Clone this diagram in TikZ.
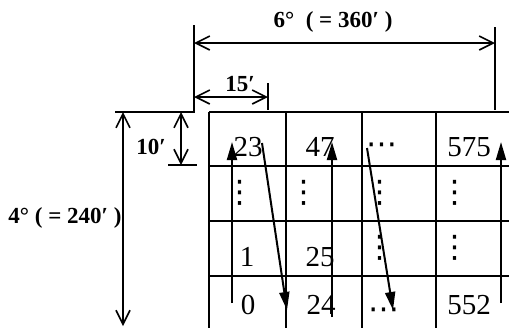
\documentclass[tikz,border=0pt]{standalone}
\usepackage{fontspec}
\setmainfont{Liberation Serif}
\newfontfamily\dotfont{DejaVu Sans}
\usetikzlibrary{arrows.meta,calc,positioning}
\tikzset{
    cell diagram/.style = {x=0.5pt, y=-0.5pt},
    rule/.style         = {line width=1pt},
    extline/.style      = {line width=0.8pt},
    dim/.style          = {line width=0.8pt,
                           {Straight Barb[length=7pt,width=7pt]}-{Straight Barb[length=7pt,width=7pt]}},
    scan/.style         = {line width=1pt, -{Triangle[length=9pt,width=5pt]}},
    dimtext/.style      = {font=\bfseries\fontsize{11.5}{13}\selectfont, inner sep=0pt},
    num/.style          = {font=\fontsize{14.5}{16}\selectfont, inner sep=0pt},
    dots/.style         = {font=\dotfont\fontsize{15.5}{18}\selectfont, inner sep=0pt}
}

\begin{document}
\begin{tikzpicture}[cell diagram]
\useasboundingbox (0,0) rectangle (509,327);
\clip (0,0) rectangle (509,327);

% Grid of 15' x 10' cells (runs past the right and bottom edges)
\foreach \cx in {209, 286, 362, 436, 512}
    \draw[rule] (\cx,112) -- (\cx,340);
\foreach \ry in {112, 166, 221, 276}
    \draw[rule] (209,\ry) -- (520,\ry);

% Cell numbers
\foreach \nm/\px/\py/\txt in {n23/248/147/23, n47/320/147/47, n575/469/147/575,
                              n1/247/257/1, n25/320/257/25,
                              n0/248/305/0, n24/321/305/24, n552/469/305/552}
    \node[num] (\nm) at (\px,\py) {\txt};
\node[dots] (hd1) at (382,149) {⋯};
\node[dots] (hd2) at (384,314) {⋯};
\foreach \i/\px/\py in {1/240/193, 2/304/193, 3/380/193, 4/455/193,
                        5/380/248, 6/455/248}
    \node[dots] (vd\i) at (\px,\py) {⋮};

% Numbering order: up each column, then jump to the next
\coordinate (c1b) at (232,303);  \coordinate (c1t) at (232,142);
\coordinate (j1s) at (262,143);  \coordinate (j1e) at (287,310);
\coordinate (c2b) at (332,317);  \coordinate (c2t) at (332,142);
\coordinate (j2s) at (367,148);  \coordinate (j2e) at (393,310);
\coordinate (c4b) at (501,303);  \coordinate (c4t) at (501,142);
\draw[scan] (c1b) -- (c1t);
\draw[scan] (j1s) -- (j1e);
\draw[scan] (c2b) -- (c2t);
\draw[scan] (j2s) -- (j2e);
\draw[scan] (c4b) -- (c4t);

% Width dimensions
\coordinate (wLt) at (194,25);   \coordinate (wLb) at (194,112);
\coordinate (wRt) at (495,27);   \coordinate (wRb) at (495,110);
\coordinate (cRt) at (268,83);   \coordinate (cRb) at (268,110);
\coordinate (hL)  at (115,112);
\draw[extline] (wLt) -- (wLb) -- (hL);
\draw[extline] (wRt) -- (wRb);
\draw[extline] (cRt) -- (cRb);
\draw[dim] (194,43) coordinate (w6a) -- (495,43) coordinate (w6b);
\draw[dim] (194,97) coordinate (w15a) -- (268,97) coordinate (w15b);
\node[dimtext] (lw6)  at (333,22) {6°\ \ ( = 360′\ )};
\node[dimtext] (lw15) at (240,84) {15′};

% Height dimensions
\coordinate (rB) at (168,165);   \coordinate (rBe) at (197,165);
\draw[extline] (rB) -- (rBe);
\draw[dim] (181,112) coordinate (h10a) -- (181,165) coordinate (h10b);
\draw[dim] (123,112) coordinate (h4a) -- (123,326) coordinate (h4b);
\node[dimtext] (lh10) at (151,147) {10′};
\node[dimtext, anchor=west] (lh4) at (8,218) {4°\ ( = 240′\ )};

\end{tikzpicture}
\end{document}
